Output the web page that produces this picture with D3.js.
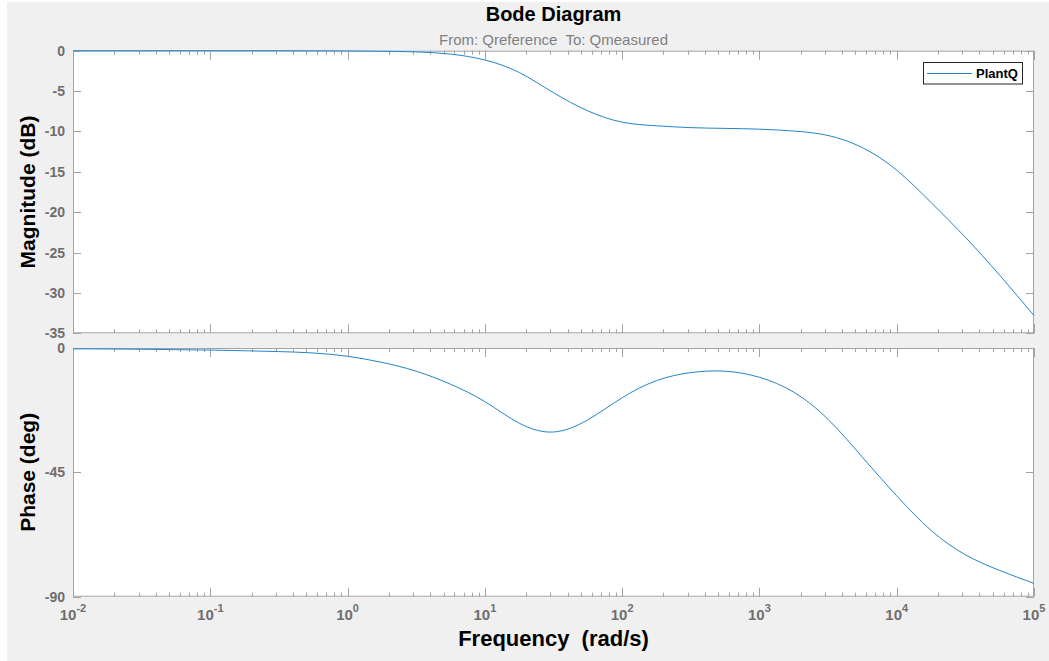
<!DOCTYPE html>
<html>
<head>
<meta charset="utf-8">
<script src="https://cdn.jsdelivr.net/npm/d3@7"></script>
<style>
  body { margin: 0; background: #fff; }
  text { font-family: "Liberation Sans", Arial, Helvetica, sans-serif; }
</style>
</head>
<body>
<div id="chart"></div>
<script>
// values, every quarter decade (rad/s)
var freq = [0.01, 0.0178, 0.0316, 0.0562, 0.1, 0.178, 0.316, 0.562, 1, 1.78, 3.16, 5.62, 10, 17.8, 31.6, 56.2,
            100, 178, 316, 562, 1000, 1780, 3160, 5620, 10000, 17800, 31600, 56200, 100000];
var magDb = [0, 0, 0, 0, 0, 0, 0, -0.01, -0.03, -0.07, -0.15, -0.42, -1.15, -2.7, -5.2, -7.45,
             -8.85, -9.3, -9.53, -9.62, -9.72, -9.95, -10.5, -12.0, -14.8, -18.8, -23.1, -27.8, -32.8];
var phaseDeg = [-0.3, -0.35, -0.45, -0.6, -0.75, -1.0, -1.3, -1.8, -3.0, -5.2, -8.4, -13.1, -19.4, -27.2, -30.4, -26.0,
                -18.0, -11.8, -8.9, -8.4, -10.6, -16.0, -25.8, -39.5, -53.5, -66.0, -74.8, -80.5, -85.2];

var magTicks = [0, -5, -10, -15, -20, -25, -30, -35];
var phaseTicks = [0, -45, -90];
var decades = [-2, -1, 0, 1, 2, 3, 4, 5];

var W = 1049, H = 661;
var left = 73, right = 1034;
var axisGray = "#a3a3a3";
var labelGray = "#6e6e6e";
var lineBlue = "#2584ca";

var svg = d3.select("#chart").append("svg")
    .attr("width", W)
    .attr("height", H);

// figure background (grey, thin white border top/left like the screenshot)
svg.append("rect").attr("x", 7).attr("y", 2).attr("width", W - 7).attr("height", H - 2).attr("fill", "#f0f0f0");

var x = d3.scaleLog().domain([0.01, 100000]).range([left, right]);
var yMag = d3.scaleLinear().domain([-35, 0]).range([333.3, 50.7]);
var yPh = d3.scaleLinear().domain([-90, 0]).range([596.7, 348]);

var minors = [];
decades.slice(0, -1).forEach(function(e) {
    for (var k = 2; k <= 9; k++) minors.push(k * Math.pow(10, e));
});

function drawAxes(y, ticks) {
    var g = svg.append("g");
    var y0 = y.range()[1], y1 = y.range()[0];
    g.append("rect")
        .attr("x", left).attr("y", y0)
        .attr("width", right - left).attr("height", y1 - y0)
        .attr("fill", "#fff");

    // x ticks top and bottom, pointing inside
    var xt = g.append("g").attr("stroke", axisGray).attr("stroke-width", 1);
    decades.forEach(function(e) {
        var px = Math.round(x(Math.pow(10, e))) + 0.5;
        xt.append("line").attr("x1", px).attr("x2", px).attr("y1", y1).attr("y2", y1 - 9);
        xt.append("line").attr("x1", px).attr("x2", px).attr("y1", y0).attr("y2", y0 + 9);
    });
    minors.forEach(function(v) {
        var px = Math.round(x(v)) + 0.5;
        xt.append("line").attr("x1", px).attr("x2", px).attr("y1", y1).attr("y2", y1 - 4);
        xt.append("line").attr("x1", px).attr("x2", px).attr("y1", y0).attr("y2", y0 + 4);
    });

    // y ticks left and right
    ticks.forEach(function(t) {
        var py = Math.round(y(t)) + 0.5;
        xt.append("line").attr("x1", left).attr("x2", left + 8).attr("y1", py).attr("y2", py);
        xt.append("line").attr("x1", right).attr("x2", right - 8).attr("y1", py).attr("y2", py);
    });

    // box
    g.append("rect")
        .attr("x", left + 0.5).attr("y", y0 + 0.5)
        .attr("width", right - left - 1).attr("height", y1 - y0 - 1)
        .attr("fill", "none").attr("stroke", axisGray);

    g.append("g").selectAll("text")
        .data(ticks)
        .enter()
        .append("text")
        .attr("x", 65)
        .attr("y", d => y(d))
        .attr("dy", "0.36em")
        .attr("text-anchor", "end")
        .attr("font-size", 14)
        .attr("font-weight", "bold")
        .attr("fill", labelGray)
        .text(d => d);
    return g;
}

drawAxes(yMag, magTicks);
drawAxes(yPh, phaseTicks);

// x tick labels 10^n
var xl = svg.append("g").selectAll("text")
    .data(decades)
    .enter()
    .append("text")
    .attr("x", d => x(Math.pow(10, d)))
    .attr("y", 620)
    .attr("text-anchor", "middle")
    .attr("font-size", 15)
    .attr("font-weight", "bold")
    .attr("fill", labelGray);
xl.append("tspan").text("10");
xl.append("tspan").attr("dy", -8).attr("font-size", 11).text(d => d);

// curves
var magLine = d3.line()
    .x(d => x(d[0]))
    .y(d => yMag(d[1]))
    .curve(d3.curveNatural);
var phLine = d3.line()
    .x(d => x(d[0]))
    .y(d => yPh(d[1]))
    .curve(d3.curveNatural);

svg.append("path")
    .datum(d3.zip(freq, magDb))
    .attr("d", magLine)
    .attr("fill", "none")
    .attr("stroke", lineBlue)
    .attr("stroke-width", 1);
svg.append("path")
    .datum(d3.zip(freq, phaseDeg))
    .attr("d", phLine)
    .attr("fill", "none")
    .attr("stroke", lineBlue)
    .attr("stroke-width", 1);

// titles
svg.append("text")
    .attr("x", (left + right) / 2).attr("y", 21)
    .attr("text-anchor", "middle")
    .attr("font-size", 20).attr("font-weight", "bold")
    .attr("fill", "#000")
    .text("Bode Diagram");
svg.append("text")
    .attr("x", (left + right) / 2).attr("y", 45)
    .attr("text-anchor", "middle")
    .attr("font-size", 15)
    .attr("fill", "#808080")
    .style("white-space", "pre")
    .text("From: Qreference  To: Qmeasured");

svg.append("text")
    .attr("x", (left + right) / 2).attr("y", 646)
    .attr("text-anchor", "middle")
    .attr("font-size", 22).attr("font-weight", "bold")
    .attr("fill", "#000")
    .style("white-space", "pre")
    .text("Frequency  (rad/s)");

svg.append("text")
    .attr("transform", "translate(35," + (50.7 + 333.3) / 2 + ") rotate(-90)")
    .attr("text-anchor", "middle")
    .attr("font-size", 21).attr("font-weight", "bold")
    .attr("fill", "#000")
    .text("Magnitude (dB)");
svg.append("text")
    .attr("transform", "translate(35," + (348 + 596.7) / 2 + ") rotate(-90)")
    .attr("text-anchor", "middle")
    .attr("font-size", 21).attr("font-weight", "bold")
    .attr("fill", "#000")
    .text("Phase (deg)");

// legend
var lg = svg.append("g");
lg.append("rect")
    .attr("x", 923.5).attr("y", 62.5)
    .attr("width", 99).attr("height", 21.5)
    .attr("fill", "#fff").attr("stroke", "#262626");
lg.append("line")
    .attr("x1", 927).attr("x2", 972)
    .attr("y1", 73.5).attr("y2", 73.5)
    .attr("stroke", lineBlue);
lg.append("text")
    .attr("x", 976).attr("y", 78)
    .attr("font-size", 13).attr("font-weight", "bold")
    .attr("fill", "#000")
    .text("PlantQ");
</script>
</body>
</html>
